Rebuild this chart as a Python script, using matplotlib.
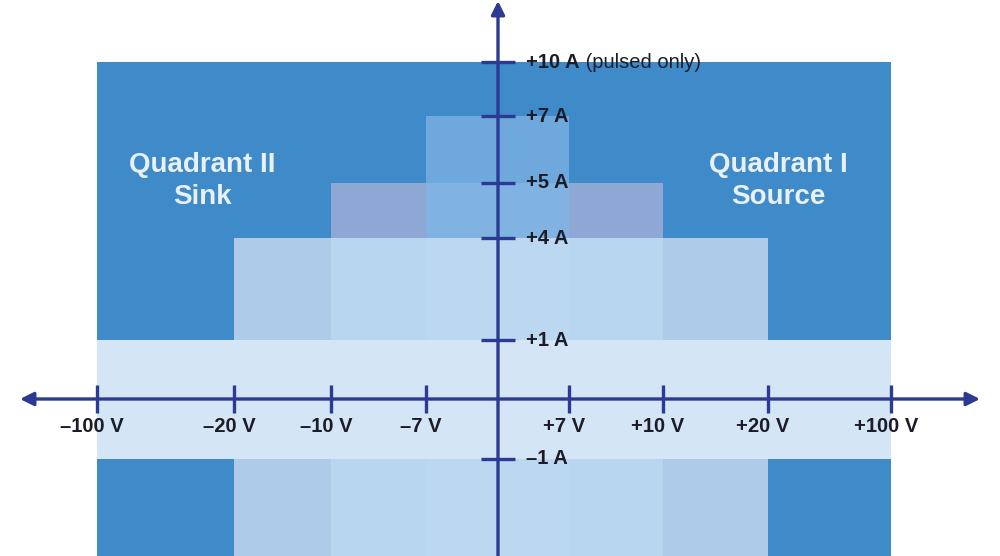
import numpy as np
import matplotlib.pyplot as plt

plt.rcParams['font.family'] = ['Liberation Sans', 'DejaVu Sans']

# ---- data -------------------------------------------------------------
volt_ticks = [-100, -20, -10, -7, 0, 7, 10, 20, 100]
volt_labels = ['\u2013100 V', '\u201320 V', '\u201310 V', '\u20137 V', '',
               '+7 V', '+10 V', '+20 V', '+100 V']
amp_ticks = [10, 7, 5, 4, 1, -1, -4]
amp_labels = ['+10 A', '+7 A', '+5 A', '+4 A', '+1 A', '\u20131 A', '\u20134 A']

# operating ranges (voltage limit, current limit)
pulsed_v, pulsed_a = 100, 10
full_v, full_a = 100, 1
range_v = [20, 10, 7]
range_a = [4, 5, 7]

# ---- non-linear axes (where each tick sits, in pixels) -----------------
x_anchor = [97, 234, 331, 426, 498, 569, 663, 768, 891]
y_anchor_v = [-4, -1, 0, 1, 4, 5, 7, 10]
y_anchor_p = [-559, -459, -399, -340, -238, -183, -116, -62]


def piecewise(xs, ys):
    xs = np.asarray(xs, float)
    ys = np.asarray(ys, float)

    def f(v):
        v = np.asarray(v, float)
        out = np.interp(v, xs, ys)
        lo_slope = (ys[1] - ys[0]) / (xs[1] - xs[0])
        hi_slope = (ys[-1] - ys[-2]) / (xs[-1] - xs[-2])
        out = np.where(v < xs[0], ys[0] + (v - xs[0]) * lo_slope, out)
        out = np.where(v > xs[-1], ys[-1] + (v - xs[-1]) * hi_slope, out)
        return out
    return f


xfwd = piecewise(volt_ticks, x_anchor)
xinv = piecewise(x_anchor, volt_ticks)
yfwd = piecewise(y_anchor_v, y_anchor_p)
yinv = piecewise(y_anchor_p, y_anchor_v)

fig = plt.figure(figsize=(10, 5.56), dpi=100)
ax = fig.add_axes([0, 0, 1, 1])
ax.set_xscale('function', functions=(xfwd, xinv))
ax.set_yscale('function', functions=(yfwd, yinv))
ax.set_xlim(float(xinv(0)), float(xinv(1000)))
ax.set_ylim(float(yinv(-556)), float(yinv(0)))
ax.axis('off')


def rect(v, a, color):
    ax.fill_between([-v, v], -a, a, color=color, lw=0)


rect(pulsed_v, pulsed_a, '#3f8ac8')
rect(range_v[1], range_a[1], '#8ea7d5')
rect(range_v[2], range_a[2], '#6fa8dc')
rect(range_v[2], range_a[1], '#80b3e1')
rect(range_v[0], range_a[0], '#aecbea')
rect(range_v[1], range_a[0], '#b9d6f0')
rect(range_v[2], range_a[0], '#bcd8f1')
rect(full_v, full_a, '#d4e5f5')

axis_col = '#2c3a93'
# horizontal axis
ax.annotate('', xy=(float(xinv(980)), 0), xytext=(float(xinv(20)), 0),
            arrowprops=dict(arrowstyle='<|-|>', color=axis_col, lw=2.4,
                            mutation_scale=20, shrinkA=0, shrinkB=0))
# vertical axis
ax.annotate('', xy=(0, float(yinv(-1))), xytext=(0, float(yinv(-570))),
            arrowprops=dict(arrowstyle='-|>', color=axis_col, lw=2.4,
                            mutation_scale=20, shrinkA=0, shrinkB=0))

# tick marks
xt = [v for v in volt_ticks if v != 0]
ax.plot(xt, [0] * len(xt), ls='none', marker='|', ms=20, mew=2.4, color=axis_col)
ax.plot([0] * len(amp_ticks), amp_ticks, ls='none', marker='_', ms=24, mew=2.4,
        color=axis_col)

txt_col = '#1c1c28'
for v, lab in zip(volt_ticks, volt_labels):
    if lab:
        ax.annotate(lab, xy=(v, 0), xytext=(-5, -27), textcoords='offset pixels',
                    ha='center', va='center', fontsize=14.5, fontweight='bold',
                    color=txt_col)

for a, lab in zip(amp_ticks, amp_labels):
    t = ax.annotate(lab, xy=(0, a), xytext=(28, 0), textcoords='offset pixels',
                    ha='left', va='center', fontsize=14.5, fontweight='bold',
                    color=txt_col)
    if a == pulsed_a:
        ax.annotate(' (pulsed only)', xy=(1, 0.5), xycoords=t, ha='left',
                    va='center', fontsize=14.5, color=txt_col)

# quadrant names
quad_col = '#e8f0f9'
ax.text(float(xinv(202)), float(yinv(-181)), 'Quadrant II\nSink', ha='center',
        va='center', fontsize=20, fontweight='bold', color=quad_col,
        linespacing=1.3)
ax.text(float(xinv(778)), float(yinv(-181)), 'Quadrant I\nSource', ha='center',
        va='center', fontsize=20, fontweight='bold', color=quad_col,
        linespacing=1.3)

fig.savefig('out.png', dpi=100, facecolor='white')
